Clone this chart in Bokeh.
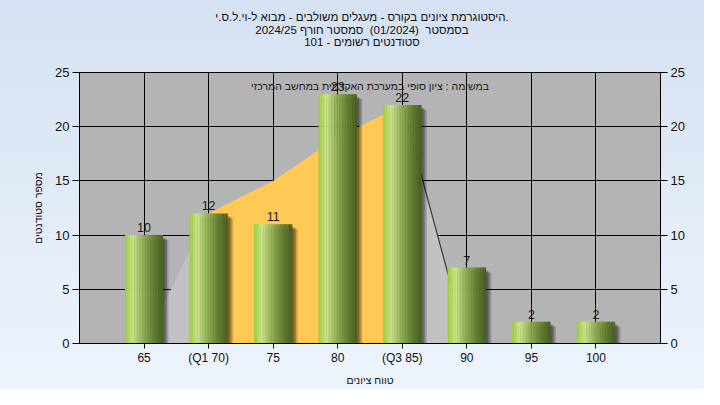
from bokeh.plotting import figure
from bokeh.models import (Label, LinearAxis, Range1d, FixedTicker, InlineStyleSheet,
                          ColumnDataSource, Div)
from bokeh.layouts import column
from bokeh.transform import dodge
from bokeh.embed import file_html
from bokeh.resources import INLINE
from bokeh.core.properties import value

# ---------------- data ----------------
categories = ["65", "(Q1 70)", "75", "80", "(Q3 85)", "90", "95", "100"]
counts = [10, 12, 11, 23, 22, 7, 2, 2]
curve_top = [0, 12, 15, 19, 22, 0]      # distribution outline over 65..90
q1_index = 1
q3_index = 4
y_ticks = [0, 5, 10, 15, 20, 25]

title_lines = [
    "היסטוגרמת ציונים בקורס - מעגלים משולבים - מבוא ל-וי.ל.ס.י.",
    "בסמסטר &nbsp;(01/2024) &nbsp;סמסטר חורף 2024/25",
    "סטודנטים רשומים - 101",
]
legend_text = "במשימה : ציון סופי במערכת האקדמית במחשב המרכזי"
x_label = "טווח ציונים"
y_label = "מספר סטודנטים"

FONT = "Liberation Sans"
TITLE_H = 56

pos = list(range(1, len(categories) + 1))

# ---------------- title block (HTML) ----------------
title_html = (
    '<div dir="ltr" style="width:704px; box-sizing:border-box; padding:11px 0 0 20px; '
    'text-align:center; font-family:\'Liberation Sans\'; font-size:11.5px; '
    'line-height:12.5px; color:#111111; white-space:nowrap;">'
    + "<br>".join(title_lines) + "</div>"
)
title_div = Div(text=title_html, width=704, height=TITLE_H, margin=0)

# ---------------- figure ----------------
p = figure(width=704, height=389 - TITLE_H, output_backend="svg",
           toolbar_location=None, title=None,
           x_range=Range1d(0, len(categories) + 1), y_range=Range1d(0, 25),
           min_border_left=79, min_border_right=44, min_border_top=72 - TITLE_H,
           min_border_bottom=46, margin=0)
p.border_fill_color = None
p.background_fill_color = "#b4b4b4"
p.outline_line_color = "black"
p.outline_line_width = 1

# grids
p.xgrid.ticker = FixedTicker(ticks=pos)
p.ygrid.ticker = FixedTicker(ticks=y_ticks)
for g in (p.xgrid, p.ygrid):
    g.grid_line_color = "black"
    g.grid_line_alpha = 1.0

# distribution areas
p.patch(pos[:len(curve_top)], curve_top, color="#c2c2c2", line_color=None)
ox = [pos[q1_index]] + pos[q1_index:q3_index + 1] + [pos[q3_index]]
oy = [0] + curve_top[q1_index:q3_index + 1] + [0]
p.patch(ox, oy, color="#ffc954", line_color=None)
p.line(pos[q3_index:q3_index + 2], curve_top[q3_index:q3_index + 2],
       line_color="#3a3a3a", line_width=1.2)

src = ColumnDataSource(dict(x=pos, top=counts, label=[str(c) for c in counts]))
W = 0.59

# shadows
for dx, dy, a in [(0.035, -0.25, 0.22), (0.06, -0.35, 0.22), (0.085, -0.45, 0.18)]:
    p.vbar(x=dodge("x", dx), top=dodge("top", dy), bottom=0, width=W, source=src,
           fill_color="black", fill_alpha=a, line_color=None)

# bars with horizontal gradient (stripes)
stops = [(0.0, (152, 204, 56)), (0.2, (204, 230, 140)), (0.45, (150, 180, 90)),
         (0.75, (100, 128, 50)), (1.0, (72, 94, 32))]


def col(t):
    for (t0, c0), (t1, c1) in zip(stops[:-1], stops[1:]):
        if t0 <= t <= t1:
            f = (t - t0) / (t1 - t0)
            r, g, b = [round(a + (b_ - a) * f) for a, b_ in zip(c0, c1)]
            return "#%02x%02x%02x" % (r, g, b)
    return "#485e20"


N = 24
sw = W / N
for i in range(N):
    off = -W / 2 + (i + 0.5) * sw
    p.vbar(x=dodge("x", off), top="top", bottom=0, width=sw * 1.15, source=src,
           fill_color=col((i + 0.5) / N), line_color=None)

# value labels
p.text(x="x", y="top", text="label", source=src, text_align="center",
       text_baseline="bottom", y_offset=-3, text_font=value(FONT),
       text_font_size="12.5px", text_color="#1a1a1a")

# annotation
p.add_layout(Label(x=(len(categories) + 1) / 2, y=23.8, text=legend_text,
                   text_align="center", text_baseline="middle", text_font=FONT,
                   text_font_size="10.5px", text_color="#1a1a1a"))

# axes
p.xaxis.ticker = FixedTicker(ticks=pos)
p.xaxis.major_label_overrides = {x: c for x, c in zip(pos, categories)}
p.xaxis.axis_label = x_label
p.yaxis.ticker = FixedTicker(ticks=y_ticks)
p.yaxis.axis_label = y_label
ry = LinearAxis(ticker=FixedTicker(ticks=y_ticks))
p.add_layout(ry, "right")

for ax in (p.xaxis[0], p.yaxis[0], ry):
    ax.axis_line_color = "black"
    ax.major_tick_line_color = "black"
    ax.minor_tick_line_color = None
    ax.major_tick_in = 0
    ax.major_label_text_font = FONT
    ax.major_label_text_font_size = "13px"
    ax.major_label_text_color = "#111111"
    ax.axis_label_text_font = FONT
    ax.axis_label_text_font_size = "10.5px"
    ax.axis_label_text_font_style = "normal"
    ax.axis_label_text_color = "#111111"
p.xaxis.major_label_text_font_size = "12px"
p.xaxis.major_tick_out = 5
p.xaxis.major_label_standoff = 2
p.xaxis.axis_label_standoff = 6
p.yaxis.major_tick_out = 7
p.yaxis.major_label_standoff = 3
p.yaxis.axis_label_standoff = 8
ry.major_tick_out = 7
ry.major_label_standoff = 3

layout = column(title_div, p, spacing=0, margin=0)
layout.stylesheets.append(InlineStyleSheet(
    css=":host { background: linear-gradient(#d5e1f2, #edf4fc); }"))

open("out.html", "w").write(file_html(layout, INLINE))
